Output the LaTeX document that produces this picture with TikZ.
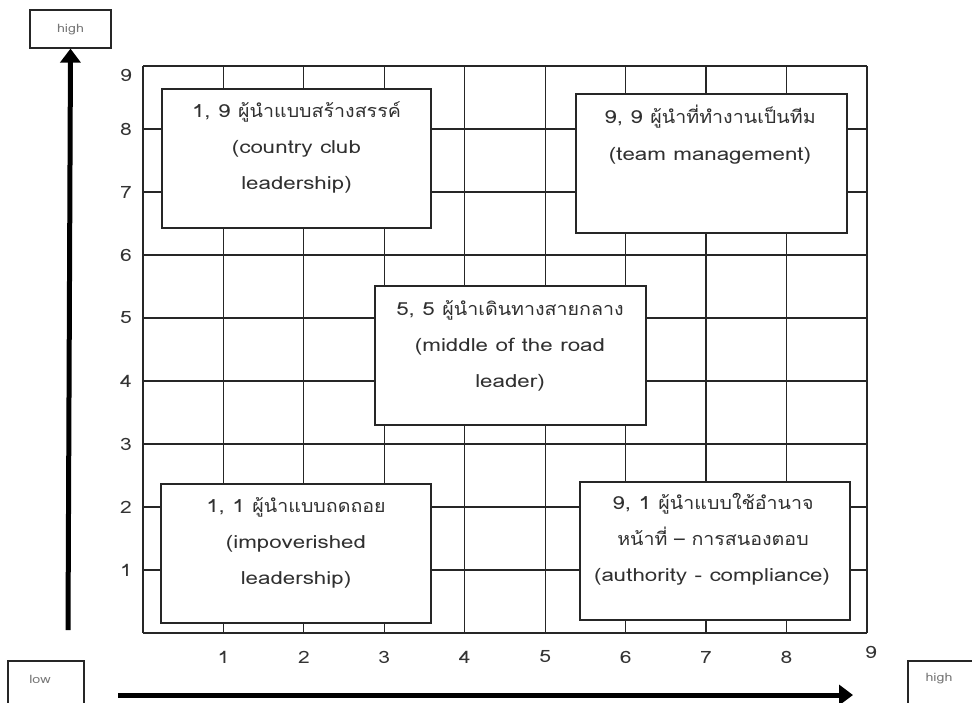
\documentclass[tikz,border=0pt]{standalone}
\usepackage{fontspec}
\newfontfamily\thaifont[Script=Thai, FakeStretch=1.09]{Loma}
\newfontfamily\latfont[Script=Thai, FakeStretch=1.24]{Loma}
\usetikzlibrary{arrows.meta}
\definecolor{txt}{HTML}{303030}
\definecolor{lbl}{HTML}{777777}
\begin{document}
\begin{tikzpicture}[x=1pt,y=-1pt,
  gridline/.style={line width=1.2pt, black!85},
  boxframe/.style={draw=black!85, line width=1.4pt, fill=white, inner sep=0pt},
  txtline/.style={anchor=base, inner sep=0pt, text=txt, font=\thaifont\fontsize{18}{22}\selectfont},
  latline/.style={anchor=base, inner sep=0pt, text=txt, font=\latfont\fontsize{18}{22}\selectfont},
  axlabel/.style={inner sep=0pt, text=black!80, font=\latfont\fontsize{17}{20}\selectfont},
  smallbox/.style={draw=black!85, line width=1.2pt, fill=white, inner sep=0pt},
  smalltxt/.style={inner sep=0pt, text=lbl, font=\latfont\fontsize{11.5}{14}\selectfont},
  axisarrow/.style={line width=5pt, -{Triangle[width=20pt,length=14pt]}}
]
\useasboundingbox (0,0) rectangle (972,702);
\clip (0,0) rectangle (972,702);
% grid
\foreach \i in {0,...,9} {
  \draw[gridline] ({143+\i*80.44},66) -- ({143+\i*80.44},633);
  \draw[gridline] (143,{66+\i*63}) -- (867,{66+\i*63});
}
% axis numbers
\foreach \n/\yy in {9/75,8/129,7/192,6/255,5/318,4/381,3/444,2/507,1/570}
  \node[axlabel] (y\n) at (126,\yy) {\n};
\foreach \n in {1,...,8}
  \node[axlabel] (x\n) at ({143+\n*80.44},657) {\n};
\node[axlabel] (x9) at (871,652) {9};
% boxes
\node[boxframe, minimum width=269pt, minimum height=139pt] (b19) at (296.5,158.5) {};
\node[txtline] (t19a) at (296.5,117) {{\latfont 1, 9 }ผู้นำแบบสร้างสรรค์};
\node[latline] (t19b) at (296.5,153) {(country club};
\node[latline] (t19c) at (296.5,189) {leadership)};

\node[boxframe, minimum width=271pt, minimum height=139pt] (b99) at (711.5,163.5) {};
\node[txtline] (t99a) at (710,123) {{\latfont 9, 9 }ผู้นำที่ทำงานเป็นทีม};
\node[latline] (t99b) at (710,160) {(team management)};

\node[boxframe, minimum width=271pt, minimum height=139pt] (b55) at (510.5,355.5) {};
\node[txtline] (t55a) at (510,315) {{\latfont 5, 5 }ผู้นำเดินทางสายกลาง};
\node[latline] (t55b) at (510,351) {(middle of the road};
\node[latline] (t55c) at (510,387) {leader)};

\node[boxframe, minimum width=270pt, minimum height=139pt] (b11) at (296,553.5) {};
\node[txtline] (t11a) at (296,512) {{\latfont 1, 1 }ผู้นำแบบถดถอย};
\node[latline] (t11b) at (296,548) {(impoverished};
\node[latline] (t11c) at (296,584) {leadership)};

\node[boxframe, minimum width=270pt, minimum height=138pt] (b91) at (715,551) {};
\node[txtline] (t91a) at (713,509) {{\latfont 9, 1 }ผู้นำแบบใช้อำนาจ};
\node[txtline] (t91b) at (713,545) {หน้าที่ – การสนองตอบ};
\node[latline] (t91c) at (712,581) {(authority - compliance)};
% end labels
\node[smallbox, minimum width=81pt, minimum height=38pt] (hightop) at (70.5,29) {};
\node[smalltxt] (hightopt) at (70.5,30) {high};
\node[smallbox, minimum width=76pt, minimum height=51pt] (lowbox) at (46,686.5) {};
\node[smalltxt] (lowt) at (40,679) {low};
\node[smallbox, minimum width=82pt, minimum height=51pt] (highright) at (949,686.5) {};
\node[smalltxt] (highrightt) at (939,679) {high};
% axes
\coordinate (yfoot) at (68,630);
\draw[axisarrow] (yfoot) -- (hightop.south);
\coordinate (xstart) at (118,695);
\coordinate (xend) at (853,695);
\draw[axisarrow] (xstart) -- (xend);
\end{tikzpicture}
\end{document}
